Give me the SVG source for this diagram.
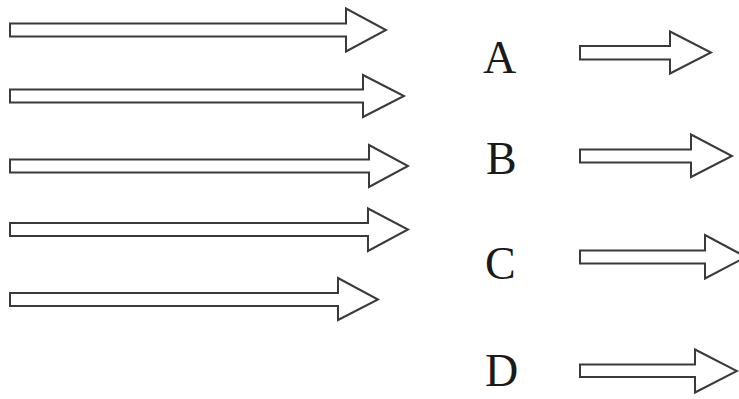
<svg xmlns="http://www.w3.org/2000/svg" width="739" height="399" viewBox="0 0 739 399">
<style>
.arr{fill:#ffffff;stroke:#3a3a3a;stroke-width:2;stroke-linejoin:miter}
.lbl{font-family:"Liberation Serif","Times New Roman",serif;font-size:46px;fill:#1a1a1a}
</style>
<rect width="739" height="399" fill="#ffffff"/>
<g id="connectors">
<path id="arrow1" class="arr" d="M10,23.5 L346,23.5 L346,8.5 L386,30 L346,51.5 L346,36.5 L10,36.5 Z"/>
<path id="arrow2" class="arr" d="M10,89.5 L363,89.5 L363,75 L404,96 L363,117 L363,102.5 L10,102.5 Z"/>
<path id="arrow3" class="arr" d="M10,159.5 L369,159.5 L369,145 L408,166 L369,187 L369,172.5 L10,172.5 Z"/>
<path id="arrow4" class="arr" d="M10,223 L368,223 L368,208.5 L408,229.5 L368,251 L368,236 L10,236 Z"/>
<path id="arrow5" class="arr" d="M10,293 L338,293 L338,278 L378,299.5 L338,320 L338,306 L10,306 Z"/>
<path id="arrowA" class="arr" d="M580,46 L670,46 L670,31.5 L711,52.5 L670,73.5 L670,59.5 L580,59.5 Z"/>
<path id="arrowB" class="arr" d="M580,149.5 L691,149.5 L691,134.5 L732,156 L691,177 L691,162.5 L580,162.5 Z"/>
<path id="arrowC" class="arr" d="M580,250.5 L705,250.5 L705,235 L746,257 L705,278.5 L705,263.5 L580,263.5 Z"/>
<path id="arrowD" class="arr" d="M580,364.5 L695,364.5 L695,349.5 L737,371 L695,392.5 L695,377 L580,377 Z"/>
</g>
<g id="labelA"><text class="lbl" x="483" y="73">A</text></g>
<g id="labelB"><text class="lbl" x="486" y="174">B</text></g>
<g id="labelC"><text class="lbl" x="485" y="279">C</text></g>
<g id="labelD"><text class="lbl" x="485" y="386">D</text></g>
</svg>
